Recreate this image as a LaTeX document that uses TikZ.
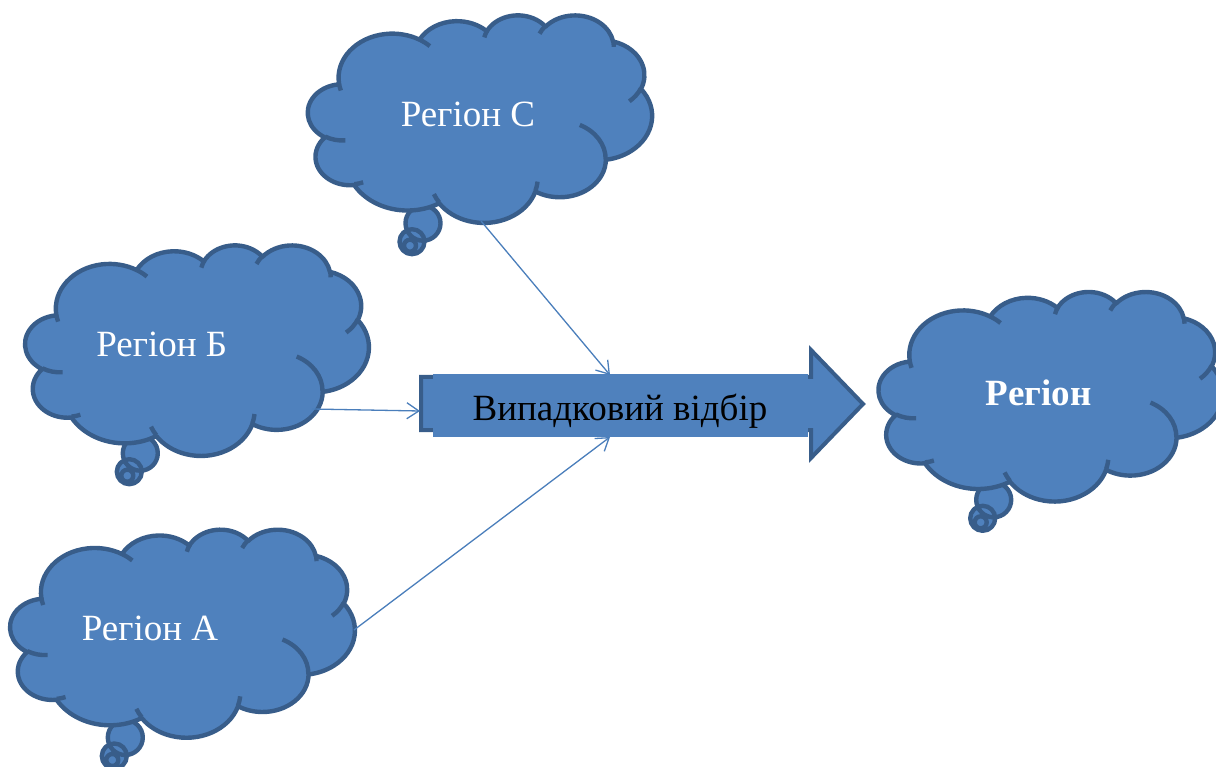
\documentclass[tikz,border=0pt]{standalone}
\usepackage{fontspec}
\setmainfont{Liberation Serif}
\usetikzlibrary{arrows.meta}
\definecolor{cfill}{HTML}{4F81BD}
\definecolor{cline}{HTML}{385D8A}
\definecolor{connc}{HTML}{4A7EBB}
\newcommand\carc[4]{arc[x radius=#1, y radius=#2, start angle={pa(#1,#2,#3)}, delta angle={mod(pa(#1,#2,#3+#4)-pa(#1,#2,#3)+720,360)}]}
\newcommand\drawcloud[4]{%
  \begin{scope}[shift={(#1,#2)}]
    \path[cloudst] (115,208.5) circle[radius=17.5] (104,227) circle[radius=12.5] (102,231) circle[radius=6];
  \end{scope}
  \begin{scope}[shift={(#1,#2)},xscale={#3/432},yscale={#4/432}]
    \path[cloudst] (39.00,143.70)
      \carc{67.53}{91.90}{-190.4875}{123.7805}
      \carc{53.33}{72.67}{-144.1024}{89.9452}
      \carc{43.65}{59.45}{-145.8079}{99.7230}
      \carc{48.57}{65.95}{-130.9861}{117.2417}
      \carc{53.33}{72.73}{-78.7089}{109.0269}
      \carc{67.75}{92.20}{-46.2673}{130.2690}
      \carc{57.85}{78.67}{0.6250}{114.0333}
      \carc{67.52}{92.15}{22.4516}{115.1726}
      \carc{77.20}{105.43}{66.2426}{75.7110}
      \carc{43.60}{59.18}{-274.9421}{146.7356}
      \carc{43.45}{59.45}{-246.8285}{152.5189}
      -- cycle;
    \path[innerst]
      (46.93,261.77) \carc{43.45}{59.45}{86.7420}{26.4295}
      (69.28,348.99) \carc{43.60}{59.18}{73.6105}{11.4475}
      (164.78,390.90) \carc{67.52}{92.15}{137.6242}{14.0811}
      (288.27,347.51) \carc{67.52}{92.15}{6.4533}{15.9984}
      (341.29,229.54) \carc{57.85}{78.67}{-70.2924}{70.9174}
      (417.98,153.54) \carc{53.33}{72.73}{30.3180}{27.7515}
      (383.24,54.26) \carc{48.57}{65.95}{-13.7443}{14.8589}
      (290.78,39.52) \carc{48.57}{65.95}{-149.1815}{18.1954}
      (221.41,47.20) \carc{43.65}{59.45}{-163.4943}{17.6864}
      (140.00,51.92) \carc{67.53}{91.90}{-66.7070}{12.3194}
      (41.27,157.89) \carc{67.53}{91.90}{157.6544}{11.8582};
  \end{scope}}
\begin{document}
\begin{tikzpicture}[x=1pt,y=-1pt,
  declare function={pa(\a,\b,\t)=atan2(\a*sin(\t),\b*cos(\t));},
  cloudst/.style={fill=cfill, draw=cline, line width=4.4pt, line join=round},
  innerst/.style={draw=cline, line width=4.4pt},
  lbl/.style={text=white, font=\fontsize{37}{44}\selectfont, inner sep=0pt},
  conn/.style={draw=connc, line width=1.3pt, -{Straight Barb[length=12pt,width=16pt,line width=1.3pt]}}]
\useasboundingbox (0,0) rectangle (1216,767);
% clouds
\drawcloud{308}{14.7}{344}{207.5}
\drawcloud{25.3}{244.7}{343.5}{210.5}
\drawcloud{10.3}{529}{344.5}{208}
\drawcloud{878.7}{291.3}{344}{209.5}
\node[lbl, anchor=base] (tC) at (468,126.7) {Регіон С};
\node[lbl, anchor=base] (tB) at (161.7,356.7) {Регіон Б};
\node[lbl, anchor=base] (tA) at (150,640) {Регіон А};
\node[lbl, anchor=base, font=\fontsize{37}{44}\selectfont\bfseries] (tR) at (1038.7,405) {Регіон};
% block arrow
\path[fill=cfill, draw=cline, line width=4pt] (421,377) -- (811,377) -- (811,350) -- (863,404) -- (811,458) -- (811,430) -- (421,430) -- cycle;
\fill[cfill] (433,374) rectangle (808,436.5);
\node[anchor=base, inner sep=0pt, font=\fontsize{37}{44}\selectfont] (sel) at (620,420) {Випадковий відбір};
% connectors
\coordinate (Cout) at (481,221);
\coordinate (Bout) at (312,409);
\coordinate (Aout) at (354,630);
\coordinate (selTop) at (610,375);
\coordinate (selLeft) at (420,411);
\coordinate (selBot) at (610,437);
\draw[conn] (Cout) -- (selTop);
\draw[conn] (Bout) -- (selLeft);
\draw[conn] (Aout) -- (selBot);
\end{tikzpicture}
\end{document}
